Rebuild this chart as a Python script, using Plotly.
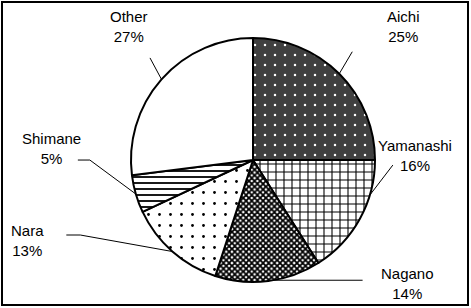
import math
import plotly.graph_objects as go

# ---- data ----
labels = ["Aichi", "Yamanashi", "Nagano", "Nara", "Shimane", "Other"]
values = [25, 16, 14, 13, 5, 27]
pct_text = ["25%", "16%", "14%", "13%", "5%", "27%"]

# ---- layout / style ----
W, H = 471, 308
CX, CY, R = 253, 160, 122
FONT = dict(family="Arial, Liberation Sans, sans-serif", size=15, color="black")

pattern_shapes = [".", "+", "x", ".", "-", ""]
fg = ["white", "black", "black", "black", "black", "black"]
bg = ["#404040", "white", "white", "white", "white", "white"]
sizes = [10, 8, 4, 11, 6, 8]
solid = [0.05, 0.25, 0.7, 0.05, 0.3, 0.3]

anchor_frac = [0.5, 0.29, 0.45, 0.5, 0.5, 0.5]
leader = [
    [(13, -22)],
    [(23, -30)],
    [(89, 0)],
    [(-92, -16.5), (-106, -16.5)],
    [(-46, -34), (-58, -34)],
    [(-11.5, -21.4)],
]
label_off = [(64, -47), (45, -39.5), (134, 3), (-145, -11.5), (-84, -45.5), (-32.5, -53)]


def px(x, y):
    return x / W, 1 - y / H


fig = go.Figure(go.Pie(
    labels=labels, values=values, sort=False, direction="clockwise",
    rotation=0, textinfo="none", hoverinfo="label+percent",
    showlegend=False,
    domain=dict(x=[(CX - R) / W, (CX + R) / W], y=[1 - (CY + R) / H, 1 - (CY - R) / H]),
    marker=dict(
        colors=bg,
        line=dict(color="black", width=2),
        pattern=dict(shape=pattern_shapes, fgcolor=fg, bgcolor=bg,
                     size=sizes, solidity=solid),
    ),
))

shapes = []
annotations = []
total = sum(values)
cum = 0
for i, v in enumerate(values):
    ang = math.radians((cum + anchor_frac[i] * v) / total * 360)
    cum += v
    ax_ = CX + R * math.sin(ang)
    ay_ = CY - R * math.cos(ang)
    pts = [(ax_, ay_)] + [(ax_ + dx, ay_ + dy) for dx, dy in leader[i]]
    for (x0, y0), (x1, y1) in zip(pts[:-1], pts[1:]):
        p0 = px(x0, y0)
        p1 = px(x1, y1)
        shapes.append(dict(type="line", xref="paper", yref="paper",
                           x0=p0[0], y0=p0[1], x1=p1[0], y1=p1[1],
                           line=dict(color="black", width=1)))
    lx, ly = px(ax_ + label_off[i][0], ay_ + label_off[i][1])
    annotations.append(dict(x=lx, y=ly, xref="paper", yref="paper",
                            text=f"{labels[i]}<br>{pct_text[i]}",
                            showarrow=False, font=FONT, align="center",
                            xanchor="center", yanchor="middle"))

# frame around the chart
fx0, fy0 = px(2, 2)
fx1, fy1 = px(W - 3, H - 3)
shapes.append(dict(type="rect", xref="paper", yref="paper",
                   x0=fx0, y0=fy1, x1=fx1, y1=fy0,
                   line=dict(color="black", width=2)))

fig.update_layout(
    width=W, height=H, margin=dict(l=0, r=0, t=0, b=0),
    paper_bgcolor="white", plot_bgcolor="white",
    shapes=shapes, annotations=annotations, font=FONT,
)

fig.write_html("out.html", config={"displayModeBar": False},
               post_script="document.body.style.margin='0';")
